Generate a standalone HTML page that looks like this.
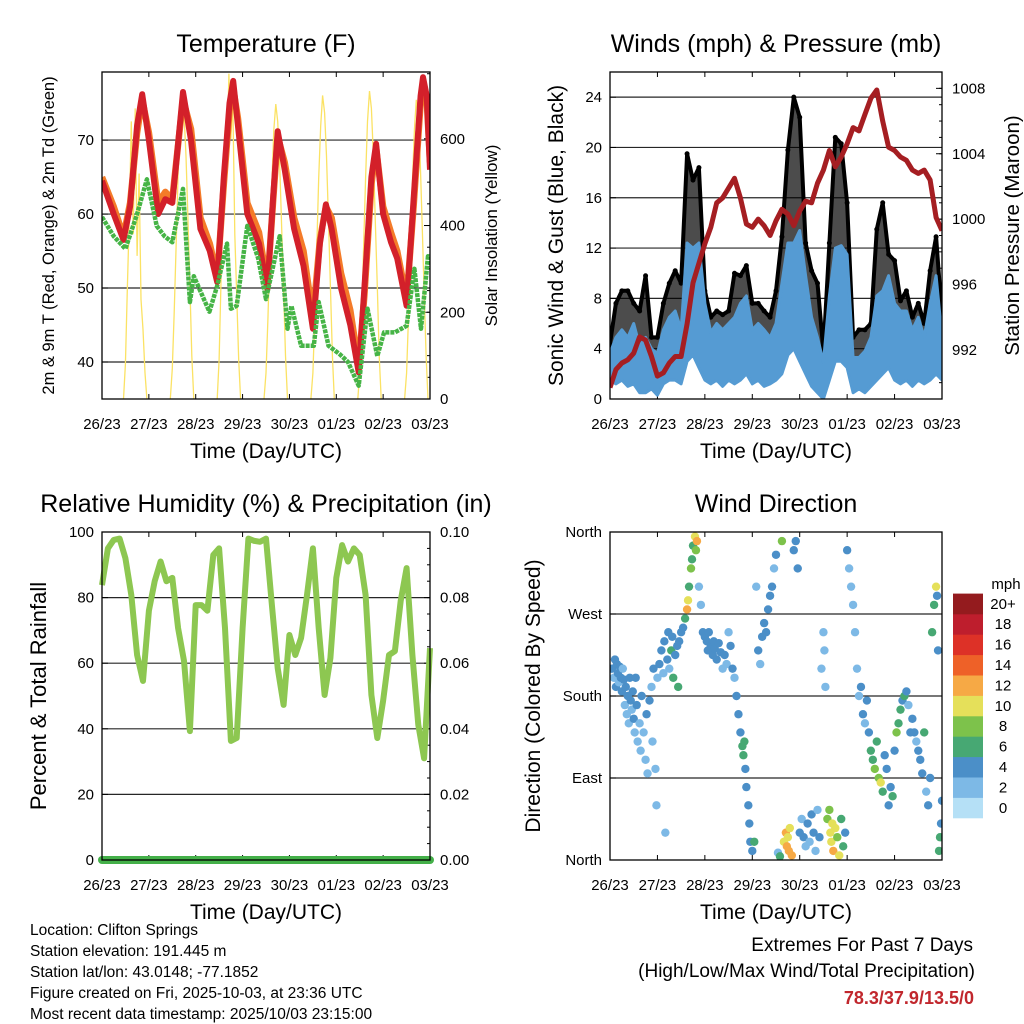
<!DOCTYPE html>
<html><head><meta charset="utf-8"><style>
html,body{margin:0;padding:0;background:#fff;}
svg{display:block;font-family:"Liberation Sans",sans-serif;}
</style></head><body>
<svg id="chart" width="1024" height="1024" viewBox="0 0 1024 1024" xmlns="http://www.w3.org/2000/svg">
<defs>
<clipPath id="c1"><rect x="102" y="72" width="328" height="327"/></clipPath>
<clipPath id="c2"><rect x="610" y="72" width="332" height="327"/></clipPath>
<clipPath id="c3"><rect x="90" y="532" width="352" height="340"/></clipPath>
<clipPath id="c4"><rect x="610" y="528" width="332" height="336"/></clipPath>
</defs>
<g id="layer"></g>
</svg>
<script>
// ---------- data ----------
const dayLabels = ["26/23","27/23","28/23","29/23","30/23","01/23","02/23","03/23"];
const tempHours = [0,6,11,14.4,18,20.6,24,28.8,32.4,36,38.4,41.5,45.6,50.4,55.2,59,62.4,65.3,67.2,69.6,74.4,80.4,84.7,87.6,90,93.6,98.4,103.2,108,111.6,114.7,117.6,122.4,127.2,131.5,134.4,138,140.4,144,148,151.2,156,159.6,163.2,164.4,166.3,168];
const temp2m = [64.5,60,56.5,61,72,76.2,70,60,62,61.5,68,76.5,70,58,55,50.8,65,75,78,72,60,56,49.9,62,71.2,66,58,53,44.5,56,61.3,58,50,45,38.6,50,65,69.5,60,56.2,54,47.6,62,76,78.5,76,66];
const temp9m = [65,61,57,61.5,71,75.5,71,61.5,63,62,68,75.5,71.5,59.5,56,51.5,64,74,77,73,61.5,57.5,50.5,61.5,70.5,67,59.5,55,46,56.5,61,59.5,52,47,39.5,49,64,69,61,57.5,55,48.5,61,75,77.5,75.5,67];
const dewHours = [0,6,12,18,23,28,32,36,41.5,45,47,55,59,64,66,69,74.4,80,84,91,95,97,102,108.5,111,116,122,126,131.5,136,141,144.5,150,156,160,163.4,167,168];
const dew2m = [59.6,57,55.3,60,64.7,58.4,57,56.2,63.4,48.1,51.6,46.8,50.3,56,47.2,47.6,58.4,54,48.5,57,44.5,47.6,42.2,42.2,48.1,42.2,41,40,36.8,47.2,40.8,44,44,44.9,52.6,44.5,54.3,54];
const solarDays = [
 [0,80,260,420,640,380,670,330,520,230,160,60,0],
 [0,70,200,360,520,640,703,660,560,420,260,100,0],
 [0,90,280,460,620,560,750,600,690,380,240,90,0],
 [0,60,190,350,500,620,680,640,540,400,250,100,0],
 [0,60,190,350,510,630,700,660,560,410,260,100,0],
 [0,60,190,350,510,640,710,670,560,410,260,100,0],
 [0,60,190,350,500,620,690,650,550,400,250,100,0]];
const windHi = [3.6,4.9,5.5,4.9,6,4.2,4.9,4,3.6,5.5,6.5,7,5.5,12.4,12,12.4,7.6,5.3,6,5.5,6,6.5,7.6,8.2,5.5,6,5.5,4.9,6,9.2,12.4,12.4,13.4,9.8,6.5,4.9,2.9,8.2,12,12.2,11.5,3.3,3.3,3.8,4.9,8.2,8.6,9.8,7.6,7,7,5.5,6.5,4.9,7.6,9.8,4.9];
const windLo = [1.5,1.2,1.5,1,1.2,0.5,0.5,0.8,0.3,1.2,1.5,1.5,1.2,3,3.5,2.5,1.5,1.2,1.5,1,1.5,1.2,1.5,2,1.2,1.5,1,1.2,1.5,2,3.5,4,3,2,1,0.5,0,1.5,3,3,2.5,0.5,0.8,0.5,1,1.5,2,2.5,1.5,1.2,1.5,1,1.5,1.2,1.5,2,1.5];
const gustHi = [4.4,7.6,8.6,8.6,7.6,7,9.8,4.9,4.9,7.6,9.2,10.2,9.2,19.5,17.4,18.4,8.6,6.5,7,6.7,7,10,9.8,10.6,7.6,7.6,7,6.5,8.6,12.9,19.8,24,22.4,12.4,10.2,9.2,3.8,12.4,20.8,20.3,15.6,4.9,5.5,5.5,6,13.5,15.6,11.5,11,7.8,8.6,6.5,7.6,6,10.2,12.9,6.5];
const pressure = [989.7,990.8,991.2,991.4,991.8,992.8,992.6,991.6,990.4,990.6,991.2,991.6,991.6,993.6,996.1,997.3,998.5,999.5,1001,1001.3,1001.9,1002.5,1001.3,999.7,999.5,1000,999.6,999,999.9,1000.6,1000.3,999.6,1000.5,1001.1,1001,1002.2,1003,1004.2,1003.2,1003.8,1004.6,1005.6,1005.4,1006.4,1007.4,1007.9,1006,1004.4,1004.2,1003.8,1003.6,1003,1002.8,1003,1002.4,1000.1,999.3];
const rh = [83.8,95,97.6,98,92,80.8,62.5,54.6,76,85,91,85,86,70.7,60.7,39.3,77.7,77.7,76,93,95,70.7,36.3,37.2,70.7,98,97.3,97,98,77.7,58.5,47.3,68.6,62.5,67.7,80.8,95,70.7,50.3,61.6,86,96,91,95,93,80.8,50.3,37.2,48.5,62.5,63.7,79,89,62.5,41.2,31,64.6];
const precip = [0,0,0,0,0,0,0,0];
const dirHours = [1,2,2.5,3,3.5,4,4.5,5,5.5,6,6.5,7,7.5,8,8.5,9,9.5,10,10.5,11,11.5,12,12.5,13,13.5,14,15,15.5,16,17,18,18.5,19,20,21,21.5,22,23,23.5,24,
25,26,27,27.5,28,29,29.5,30,31,31.5,32,33,34,34.5,35,36,37,38,39,39.5,40,41,41.5,42,43,43.5,44,45,46,47,
48,49,49.5,50,51,52,52.5,53,54,55,56,57,58,59,60,61,62,63,64,65,66,67,67.5,68,68.5,69,70,70.5,71,72,
73,74,75,76,77,78,79,80,81,82,83,84,85,86,87,88,89,89.5,90,90.5,91,92,93,94,95,96,97,98,99,100,101,102,103,104,105,106,
107,108,108.5,109,110,111,111.5,112,112.5,113,114,115,116,117,118,119,120,121,122,123,124,125,126,127,128,129,130,131,132,133,134,135,136,137,138,139,140,141,142,143,
144,145,146,147,148,149,150,151,152,153,154,155,156,157,158,159,160,161,162,163,164,165,165.5,166,166.5,167,167.5,168];
const dirDeg = [210,200,220,190,215,205,195,212,200,185,210,198,170,190,160,180,150,200,175,165,185,155,140,200,170,130,150,120,180,140,110,160,95,175,190,130,210,100,60,200,
215,230,205,240,30,220,250,210,230,245,200,225,235,190,240,250,255,265,275,285,300,320,330,345,355,340,350,300,280,250,
245,240,230,250,235,225,240,232,220,238,228,210,225,215,250,235,210,200,180,160,140,125,115,130,100,80,60,40,20,10,
20,300,230,215,245,260,250,275,290,300,320,335,8,4,350,20,30,15,25,10,35,5,340,350,320,30,45,25,15,40,20,50,30,10,55,25,
210,250,230,190,45,55,30,20,40,10,35,25,5,45,15,30,340,320,300,280,250,210,180,190,160,150,175,140,120,110,100,130,90,85,75,115,100,60,80,70,
120,140,150,165,175,180,185,170,140,155,140,130,120,110,95,140,75,60,90,250,280,300,290,230,10,25,40,65];
const dirSpd = [4,3,4,4,4,5,3,4,4,4,3,4,3,4,2,4,2,4,4,3,5,4,3,4,4,2,3,2,5,3,2,4,2,4,3,2,4,3,3,3,
4,4,3,4,3,5,4,3,6,5,6,4,5,6,4,4,4,6,12,10,7,8,7,6,10,8,12,3,2,4,
4,4,5,4,4,4,5,4,4,5,4,3,4,3,2,4,4,3,5,4,4,6,7,6,4,4,4,4,4,5,
6,2,4,2,4,4,5,5,4,4,3,4,3,6,8,10,12,12,11,13,10,12,4,4,4,4,3,4,2,4,3,4,4,2,3,4,
2,3,2,2,8,9,10,11,10,12,10,9,11,6,7,4,4,2,2,2,2,3,2,4,4,3,4,4,6,7,8,6,8,10,6,4,4,5,4,6,
4,8,7,6,5,6,4,3,4,4,5,3,4,4,4,6,3,4,4,6,7,10,5,4,6,7,4,4];
const speedColors = ["#b5e0f6","#7db9e6","#4b8fc8","#47a873","#7dc24b","#e5e05a","#f6a945","#ee6128","#dd3127","#be1e2d","#941b1e"];
const speedLabels = ["0","2","4","6","8","10","12","14","16","18","20+"];

// ---------- helpers ----------
const NS = "http://www.w3.org/2000/svg";
const layer = document.getElementById("layer");
function mk(tag, attrs, parent){
  const e = document.createElementNS(NS, tag);
  for (const k in attrs) e.setAttribute(k, attrs[k]);
  (parent||layer).appendChild(e);
  return e;
}
function txt(x,y,s,size,anchor,parent,extra){
  const t = mk("text",Object.assign({x:x,y:y,"font-size":size,"text-anchor":anchor||"middle",fill:"#000"},extra||{}),parent);
  t.textContent = s;
  return t;
}
function linScale(d0,d1,r0,r1){ return v => r0 + (v-d0)/(d1-d0)*(r1-r0); }
function pathFrom(xs, ys){ return xs.map((x,i)=>(i?"L":"M")+x.toFixed(1)+","+ys[i].toFixed(1)).join(""); }

function frame(name, x0,y0,x1,y1, title, xlabel){
  const g = mk("g",{});
  
  
  const tt = txt((x0+x1)/2, y0-20, title, 25, "middle", g);
  
  
  const xl = txt((x0+x1)/2, y1+59, xlabel, 21, "middle", g);
  
  
  const xs = linScale(0,7,x0,x1);
  dayLabels.forEach((d,i)=>{
    const x = xs(i);
    mk("line",{x1:x,y1:y1,x2:x,y2:y1-5,stroke:"#000","stroke-width":1},g);
    mk("line",{x1:x,y1:y0,x2:x,y2:y0+5,stroke:"#000","stroke-width":1},g);
    const l = txt(x, y1+30, d, 15, "middle", g);
    
    
  });
  return g;
}
function border(x0,y0,x1,y1){
  const r = mk("rect",{x:x0,y:y0,width:x1-x0,height:y1-y0,fill:"none",stroke:"#000","stroke-width":1.3});
  
  
}
function hgrid(g,x0,x1,y){ mk("line",{x1:x0,y1:y,x2:x1,y2:y,stroke:"#000","stroke-width":1.2,"stroke-opacity":0.85},g); }
function leftTick(g,x,y,label){
  mk("line",{x1:x,y1:y,x2:x+6,y2:y,stroke:"#000"},g);
  const l = txt(x-8,y+5,label,15,"end",g);
  
  
}
function rightTick(g,x,y,label){
  mk("line",{x1:x,y1:y,x2:x-6,y2:y,stroke:"#000"},g);
  const l = txt(x+10,y+5,label,15,"start",g);
  
  
}
function vlabel(g,x,y,s,size,name){
  const t = txt(0,0,s,size,"middle",g,{transform:"translate("+x+","+y+") rotate(-90)"});
  
  
}

// ---------- Panel 1: Temperature ----------
(function(){
  const x0=102,y0=72,x1=430,y1=399;
  const g = frame("temperature-panel",x0,y0,x1,y1,"Temperature (F)","Time (Day/UTC)");
  const xh = linScale(0,168,x0,x1);
  const yF = linScale(35,79.2,y1,y0);
  const yS = linScale(0,754,y1,y0);
  [40,50,60,70].forEach(v=>{ hgrid(g,x0,x1,yF(v)); leftTick(g,x0,yF(v),String(v)); });
  [0,200,400,600].forEach(v=>rightTick(g,x1,yS(v),String(v)));
  for(let v=0; v<=750; v+=50){ mk("line",{x1:x1,y1:yS(v),x2:x1-3,y2:yS(v),stroke:"#000"},g); }
  const d = mk("g",{"clip-path":"url(#c1)"},g);
  solarDays.forEach((arr,day)=>{
    const xs = arr.map((v,i)=>xh(day*24+11+i));
    const ys = arr.map(v=>yS(v));
    const p = mk("path",{d:pathFrom(xs,ys),fill:"none",stroke:"#fbe264","stroke-width":1.3},d);
    
    
  });
  const o = mk("path",{d:pathFrom(tempHours.map(xh),temp9m.map(yF)),fill:"none",stroke:"#f47b29","stroke-width":6.5,"stroke-linejoin":"round"},d);
  
  
  const r = mk("path",{d:pathFrom(tempHours.map(xh),temp2m.map(yF)),fill:"none",stroke:"#d3202a","stroke-width":6,"stroke-linejoin":"round"},d);
  
  
  const gr = mk("path",{d:pathFrom(dewHours.map(xh),dew2m.map(yF)),fill:"none",stroke:"#46b446","stroke-width":4.5,"stroke-dasharray":"4 1","stroke-linejoin":"round"},d);
  
  
  border(x0,y0,x1,y1);
  vlabel(g,54,(y0+y1)/2,"2m & 9m T (Red, Orange) & 2m Td (Green)",16.5,"y-axis-title");
  vlabel(g,497,(y0+y1)/2,"Solar Insolation (Yellow)",17,"y2-axis-title");
})();

// ---------- Panel 2: Winds & Pressure ----------
(function(){
  const x0=610,y0=72,x1=942,y1=399;
  const g = frame("winds-panel",x0,y0,x1,y1,"Winds (mph) & Pressure (mb)","Time (Day/UTC)");
  const xh = linScale(0,168,x0,x1);
  const yW = linScale(0,26,y1,y0);
  const yP = linScale(989,1009,y1,y0);
  [4,8,12,16,20,24].forEach(v=>hgrid(g,x0,x1,yW(v)));
  [0,4,8,12,16,20,24].forEach(v=>leftTick(g,x0,yW(v),String(v)));
  [992,996,1000,1004,1008].forEach(v=>rightTick(g,x1,yP(v),String(v)));
  for(let v=990; v<=1008; v++){ mk("line",{x1:x1,y1:yP(v),x2:x1-3,y2:yP(v),stroke:"#000"},g); }
  const d = mk("g",{"clip-path":"url(#c2)"},g);
  const hrs = gustHi.map((v,i)=>i*3);
  const xs = hrs.map(xh);
  const gb = pathFrom(xs, gustHi.map(yW)) + pathFrom(xs.slice().reverse(), windHi.map(v=>yW(Math.max(0,v-1))).reverse()).replace("M","L") + "Z";
  const gp = mk("path",{d:gb,fill:"#000","fill-opacity":0.7,stroke:"#000","stroke-width":4,"stroke-linejoin":"round"},d);
  
  
  gustHi.forEach((v,i)=>{
    const c = mk("circle",{cx:xs[i],cy:yW(v),r:2.5,fill:"#000"},d);
    
    
  });
  const wb = pathFrom(xs, windHi.map(yW)) + pathFrom(xs.slice().reverse(), windLo.map(yW).reverse()).replace("M","L") + "Z";
  const wp = mk("path",{d:wb,fill:"#559bd3",stroke:"#559bd3","stroke-width":3,"stroke-linejoin":"round"},d);
  
  
  const pp = mk("path",{d:pathFrom(xs,pressure.map(yP)),fill:"none",stroke:"#a51e22","stroke-width":5,"stroke-linejoin":"round"},d);
  
  
  border(x0,y0,x1,y1);
  vlabel(g,563,(y0+y1)/2,"Sonic Wind & Gust (Blue, Black)",21,"y-axis-title");
  vlabel(g,1019,(y0+y1)/2,"Station Pressure (Maroon)",20.5,"y2-axis-title");
})();

// ---------- Panel 3: RH & precip ----------
(function(){
  const x0=102,y0=532,x1=430,y1=860;
  const g = frame("humidity-panel",x0,y0,x1,y1,"Relative Humidity (%) & Precipitation (in)","Time (Day/UTC)");
  const xh = linScale(0,168,x0,x1);
  const yR = linScale(0,100,y1,y0);
  const yPr = linScale(0,0.1,y1,y0);
  [20,40,60,80].forEach(v=>hgrid(g,x0,x1,yR(v)));
  [0,20,40,60,80,100].forEach(v=>leftTick(g,x0,yR(v),String(v)));
  [0,0.02,0.04,0.06,0.08,0.1].forEach(v=>rightTick(g,x1,yPr(v),v.toFixed(2)));
  for(let v=0; v<=0.1001; v+=0.005){ mk("line",{x1:x1,y1:yPr(v),x2:x1-3,y2:yPr(v),stroke:"#000"},g); }
  const d = mk("g",{"clip-path":"url(#c3)"},g);
  const rp = mk("path",{d:pathFrom(rh.map((v,i)=>xh(i*3)),rh.map(yR)),fill:"none",stroke:"#8dc751","stroke-width":6,"stroke-linejoin":"round"},d);
  
  
  const pl = mk("path",{d:pathFrom(precip.map((v,i)=>xh(i*24)),precip.map(yPr)),fill:"none",stroke:"#44b049","stroke-width":8,"stroke-linecap":"round"},d);
  
  
  border(x0,y0,x1,y1);
  vlabel(g,46,(y0+y1)/2,"Percent & Total Rainfall",22,"y-axis-title");
})();

// ---------- Panel 4: Wind direction ----------
(function(){
  const x0=610,y0=532,x1=942,y1=860;
  const g = frame("wind-direction-panel",x0,y0,x1,y1,"Wind Direction","Time (Day/UTC)");
  const xh = linScale(0,168,x0,x1);
  const yD = linScale(0,360,y1,y0);
  [90,180,270].forEach(v=>hgrid(g,x0,x1,yD(v)));
  [[0,"North"],[90,"East"],[180,"South"],[270,"West"],[360,"North"]].forEach(a=>leftTick(g,x0,yD(a[0]),a[1]));
  const d = mk("g",{"clip-path":"url(#c4)"},g);
  dirHours.forEach((h,i)=>{
    const bin = Math.min(10, Math.floor(dirSpd[i]/2));
    const c = mk("circle",{cx:xh(h),cy:yD(dirDeg[i]),r:4.2,fill:speedColors[bin]},d);
    
    
  });
  border(x0,y0,x1,y1);
  vlabel(g,540,(y0+y1)/2,"Direction (Colored By Speed)",21,"y-axis-title");
  const cb = mk("g",{});
  
  
  const bh = 20.4, bottom = 818;
  speedColors.forEach((c,i)=>{
    const y = bottom - (i+1)*bh;
    const r = mk("rect",{x:953,y:y,width:30,height:bh+0.3,fill:c},cb);
    
    
    const l = txt(1003,y+bh/2+5,speedLabels[i],15,"middle",cb);
    
    
  });
  const u = txt(1006,589,"mph",15,"middle",cb);
  
  
})();

// ---------- footer text ----------
(function(){
  const info = ["Location: Clifton Springs","Station elevation: 191.445 m","Station lat/lon: 43.0148; -77.1852","Figure created on Fri, 2025-10-03, at 23:36 UTC","Most recent data timestamp: 2025/10/03 23:15:00"];
  const g = mk("g",{});
  
  
  info.forEach((s,i)=>{
    const t = txt(30,935+i*21,s,15.5,"start",g);
    
    
  });
  const e = mk("g",{});
  
  
  const a = txt(973,951,"Extremes For Past 7 Days",19,"end",e);
  
  
  const b = txt(975,977,"(High/Low/Max Wind/Total Precipitation)",19,"end",e);
  
  
  const c = txt(974,1004,"78.3/37.9/13.5/0",18,"end",e,{"font-weight":"bold",fill:"#c1272d"});
  
  
})();
</script>
</body></html>
